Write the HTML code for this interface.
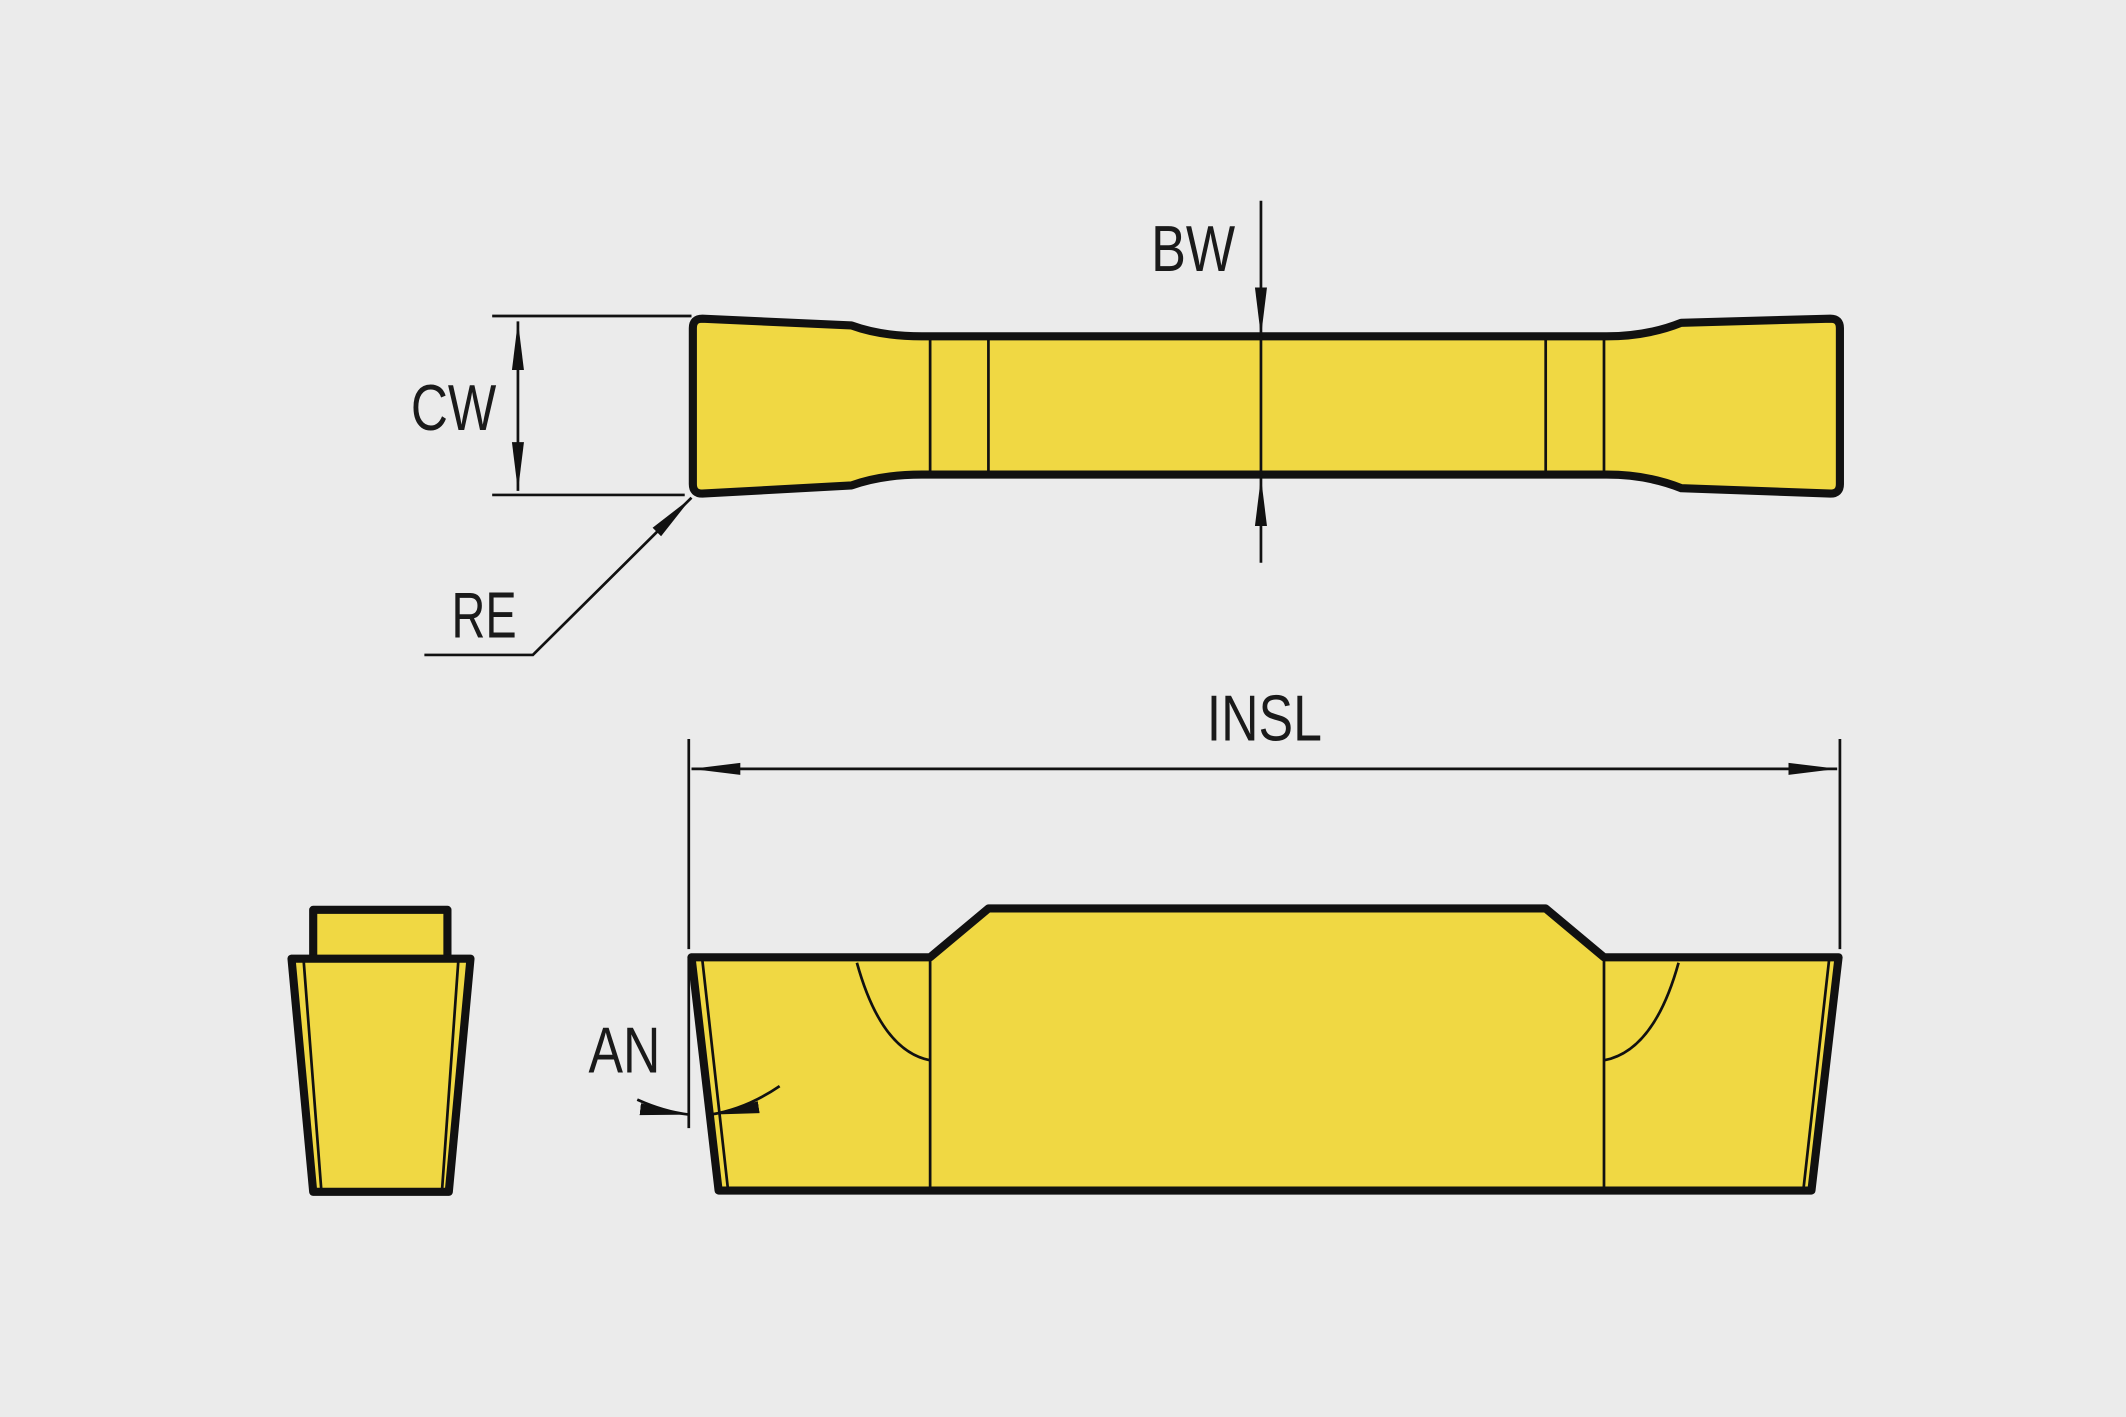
<!DOCTYPE html>
<html><head><meta charset="utf-8"><style>
html,body{margin:0;padding:0;background:#ebebeb;}
svg{display:block}
text{font-family:"Liberation Sans",sans-serif;font-size:48px;fill:#1a1a1a;}
</style></head><body>
<svg width="2126" height="1417" viewBox="0 0 1568 1045" xmlns="http://www.w3.org/2000/svg">
<defs>
<marker id="b" viewBox="0 0 30 10" refX="30" refY="5" markerWidth="36" markerHeight="12" markerUnits="userSpaceOnUse" orient="auto-start-reverse"><path d="M0,1.3 L30,5 L0,8.7z" fill="#111"/></marker>
</defs>
<rect width="1568" height="1045" fill="#ebebeb"/>
<g fill="#f0d843" stroke="#111" stroke-linejoin="round">
<path d="M518,235 L628,240 Q650,248 680,248 L1185,248 Q1215,248 1240,238 L1350,235 Q1357,235 1357,242 L1357,357 Q1357,364 1350,364 L1240,360 Q1215,350 1185,350 L680,350 Q650,350 628,358 L518,364 Q511,364 511,357 L511,242 Q511,235 518,235 Z" stroke-width="6"/>
<path d="M510,706 L686,706 L729,670 L1140,670 L1183,706 L1356,706 L1336,878 L530,878 Z" stroke-width="6"/>
<rect x="231" y="671" width="99" height="37" stroke-width="6"/>
<path d="M215,707 L347,707 L331,879 L231,879 Z" stroke-width="6"/>
</g>
<g stroke="#111" fill="none" stroke-width="2">
<path d="M686,250V348M729,250V348M1140,250V348M1183,250V348"/>
<path d="M686,706V878M1183,706V878"/>
<path d="M518,708L537,878M1349,708L1330,878"/>
<path d="M632,710 Q650,775 686,782M1238,710 Q1220,775 1183,782"/>
<path d="M224,709L237,878M338,709L326,878"/>
<path d="M363,233H510M363,365H505"/>
<path d="M382,237V362" marker-start="url(#b)" marker-end="url(#b)"/>
<path d="M313,483H393L510,367" marker-end="url(#b)"/>
<path d="M930,148V248" marker-end="url(#b)"/>
<path d="M930,415V352" marker-end="url(#b)"/>
<path d="M930,248V352"/>
<path d="M508,545V700M1357,545V700"/>
<path d="M510,567H1355" marker-start="url(#b)" marker-end="url(#b)"/>
<path d="M508,706V832"/>
<path d="M470,811 Q490,820 508,822" marker-end="url(#b)"/>
<path d="M575,801 Q550,818 524,822" marker-end="url(#b)"/>
</g>
<text x="303" y="317" textLength="63" lengthAdjust="spacingAndGlyphs">CW</text>
<text x="333" y="470" textLength="48" lengthAdjust="spacingAndGlyphs">RE</text>
<text x="849" y="200" textLength="62" lengthAdjust="spacingAndGlyphs">BW</text>
<text x="890" y="546" textLength="85" lengthAdjust="spacingAndGlyphs">INSL</text>
<text x="434" y="791" textLength="53" lengthAdjust="spacingAndGlyphs">AN</text>
</svg>
</body></html>
